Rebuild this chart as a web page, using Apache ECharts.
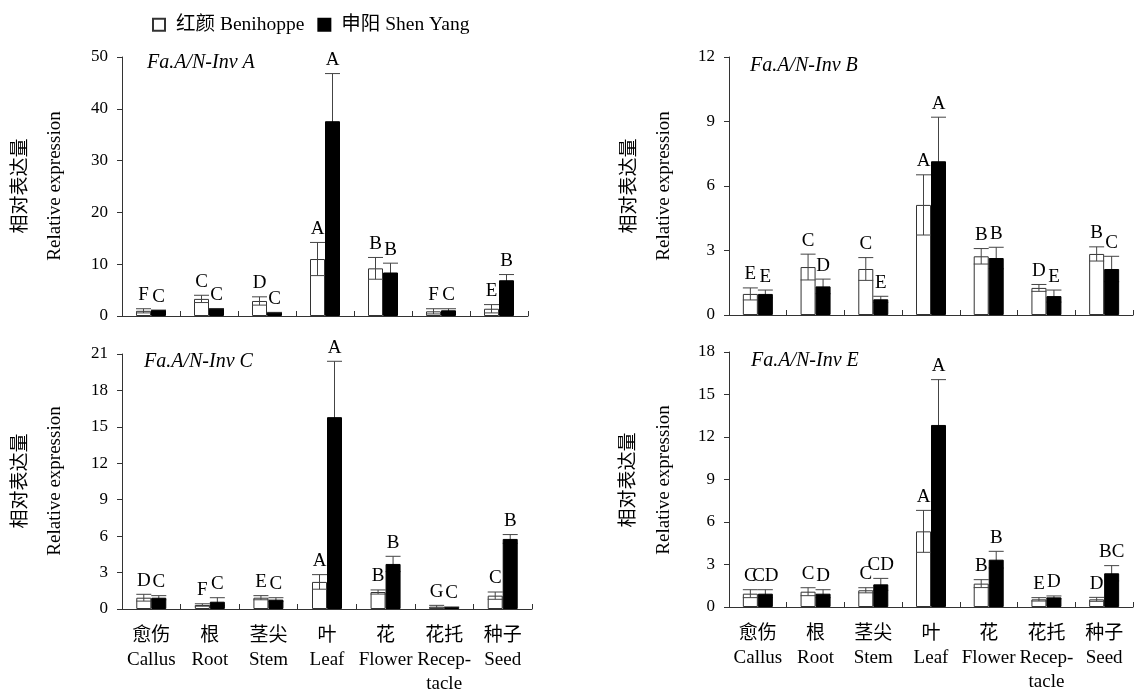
<!DOCTYPE html>
<html>
<head>
<meta charset="utf-8">
<script src="https://cdn.jsdelivr.net/npm/echarts@6/dist/echarts.min.js"></script>
<style>
html,body{margin:0;padding:0;background:#fff;}
#c{width:1137px;height:690px;}
</style>
</head>
<body>
<div id="c"></div>
<script>
// ---------- data ----------
var categoriesZh = ['愈伤', '根', '茎尖', '叶', '花', '花托', '种子'];
var categoriesEn = ['Callus', 'Root', 'Stem', 'Leaf', 'Flower', 'Recep-\ntacle', 'Seed'];
var seriesNames = ['红颜 Benihoppe', '申阳 Shen Yang'];
var panelTitles = ['Fa.A/N-Inv A', 'Fa.A/N-Inv B', 'Fa.A/N-Inv C', 'Fa.A/N-Inv E'];

// Fa.A/N-Inv A
var aWhite = [1.0, 3.3, 2.9, 11.0, 9.2, 0.9, 1.4];
var aWhiteErr = [0.4, 0.7, 0.8, 3.2, 2.1, 0.5, 0.8];
var aBlack = [1.1, 1.4, 0.65, 37.6, 8.4, 1.1, 6.9];
var aBlackErr = [0.05, 0.05, 0.05, 9.2, 1.8, 0.3, 1.1];
var aWhiteLetters = ['F', 'C', 'D', 'A', 'B', 'F', 'E'];
var aBlackLetters = ['C', 'C', 'C', 'A', 'B', 'C', 'B'];

// Fa.A/N-Inv B
var bWhite = [0.98, 2.23, 2.14, 5.12, 2.73, 1.26, 2.84];
var bWhiteErr = [0.28, 0.6, 0.53, 1.4, 0.36, 0.16, 0.33];
var bBlack = [0.98, 1.33, 0.73, 7.15, 2.65, 0.88, 2.14];
var bBlackErr = [0.18, 0.34, 0.14, 2.05, 0.5, 0.28, 0.59];
var bWhiteLetters = ['E', 'C', 'C', 'A', 'B', 'D', 'B'];
var bBlackLetters = ['E', 'D', 'E', 'A', 'B', 'E', 'C'];

// Fa.A/N-Inv C
var cWhite = [0.93, 0.33, 0.93, 2.23, 1.4, 0.19, 1.1];
var cWhiteErr = [0.28, 0.1, 0.17, 0.6, 0.17, 0.11, 0.3];
var cBlack = [0.93, 0.6, 0.77, 15.8, 3.71, 0.14, 5.77];
var cBlackErr = [0.17, 0.33, 0.16, 4.6, 0.63, 0.03, 0.36];
var cWhiteLetters = ['D', 'F', 'E', 'A', 'B', 'G', 'C'];
var cBlackLetters = ['C', 'C', 'C', 'A', 'B', 'C', 'B'];

// Fa.A/N-Inv E
var eWhite = [0.94, 1.08, 1.18, 5.34, 1.65, 0.54, 0.54];
var eWhiteErr = [0.28, 0.28, 0.18, 1.48, 0.28, 0.12, 0.14];
var eBlack = [0.94, 0.94, 1.6, 12.85, 3.34, 0.68, 2.38];
var eBlackErr = [0.28, 0.28, 0.42, 3.2, 0.59, 0.1, 0.54];
var eWhiteLetters = ['C', 'C', 'C', 'A', 'B', 'E', 'D'];
var eBlackLetters = ['CD', 'D', 'CD', 'A', 'B', 'D', 'BC'];

// y-axis scales
var yMax = [50, 12, 21, 18];
var yStep = [10, 3, 3, 3];

// ---------- chart ----------
var FONT = "'Liberation Serif', 'Noto Sans CJK SC', serif";
var BAR_W = 15;
var panels = [
  {w: aWhite, we: aWhiteErr, b: aBlack, be: aBlackErr, wl: aWhiteLetters, bl: aBlackLetters},
  {w: bWhite, we: bWhiteErr, b: bBlack, be: bBlackErr, wl: bWhiteLetters, bl: bBlackLetters},
  {w: cWhite, we: cWhiteErr, b: cBlack, be: cBlackErr, wl: cWhiteLetters, bl: cBlackLetters},
  {w: eWhite, we: eWhiteErr, b: eBlack, be: eBlackErr, wl: eWhiteLetters, bl: eBlackLetters}
];
var grids = [
  {left: 122, top: 57, width: 406, height: 259, containLabel: false, outerBoundsMode: 'none'},
  {left: 729, top: 57, width: 404, height: 258, containLabel: false, outerBoundsMode: 'none'},
  {left: 122, top: 354, width: 410, height: 255, containLabel: false, outerBoundsMode: 'none'},
  {left: 729, top: 352, width: 404, height: 255, containLabel: false, outerBoundsMode: 'none'}
];

function errRender(letters, offset) {
  return function (params, api) {
    var i = api.value(0), m = api.value(1), e = api.value(2);
    var c = api.coord([i, m]);
    var t = api.coord([i, m + e]);
    var b = api.coord([i, Math.max(0, m - e)]);
    var x = c[0] + offset;
    var hw = BAR_W / 2;
    var st = {stroke: '#444', lineWidth: 1};
    return {
      type: 'group',
      children: [
        {type: 'line', shape: {x1: x, y1: t[1], x2: x, y2: b[1]}, style: st},
        {type: 'line', shape: {x1: x - hw, y1: t[1], x2: x + hw, y2: t[1]}, style: st},
        {type: 'line', shape: {x1: x - hw, y1: b[1], x2: x + hw, y2: b[1]}, style: st},
        {type: 'text', x: x, y: t[1] - 4,
          style: {text: letters[params.dataIndex], fill: '#000', font: '19px ' + FONT,
            align: 'center', verticalAlign: 'bottom'}}
      ]
    };
  };
}

var xAxes = [], yAxes = [], series = [], graphics = [];
panels.forEach(function (p, k) {
  var bottom = k >= 2;
  xAxes.push({
    type: 'category', gridIndex: k, data: categoriesZh,
    axisLine: {lineStyle: {color: '#333', width: 1}},
    axisTick: {show: true, inside: true, length: 5, lineStyle: {color: '#333'}},
    axisLabel: {
      show: bottom, interval: 0, margin: 15, color: '#000',
      fontFamily: FONT, fontSize: 19, lineHeight: 24,
      formatter: function (v, i) { return categoriesZh[i] + '\n' + categoriesEn[i]; }
    }
  });
  yAxes.push({
    type: 'value', gridIndex: k, min: 0, max: yMax[k], interval: yStep[k],
    splitLine: {show: false},
    axisLine: {show: true, lineStyle: {color: '#333', width: 1}},
    axisTick: {show: true, length: 5, lineStyle: {color: '#333'}},
    axisLabel: {color: '#000', fontFamily: FONT, fontSize: 17, margin: 14}
  });
  var wData = p.w.map(function (v, i) { return [i, v, p.we[i]]; });
  var bData = p.b.map(function (v, i) { return [i, v, p.be[i]]; });
  series.push({
    name: seriesNames[0], type: 'bar', xAxisIndex: k, yAxisIndex: k, data: p.w,
    barWidth: BAR_W, barGap: '0%', z: 2,
    itemStyle: {color: '#fff', borderColor: '#333', borderWidth: 1}
  });
  series.push({
    name: seriesNames[1], type: 'bar', xAxisIndex: k, yAxisIndex: k, data: p.b,
    barWidth: BAR_W, barGap: '0%', z: 4,
    itemStyle: {color: '#000', borderColor: '#000', borderWidth: 1}
  });
  series.push({
    type: 'custom', xAxisIndex: k, yAxisIndex: k, data: wData, z: 3,
    renderItem: errRender(p.wl, -BAR_W / 2), silent: true
  });
  series.push({
    type: 'custom', xAxisIndex: k, yAxisIndex: k, data: bData, z: 1,
    renderItem: errRender(p.bl, BAR_W / 2), silent: true
  });
});

var titlePos = [[147, 63], [750, 66], [144, 362], [751, 361]];
titlePos.forEach(function (pos, k) {
  graphics.push({
    type: 'text', x: pos[0], y: pos[1],
    style: {text: panelTitles[k], font: 'italic 20px ' + FONT, fill: '#000',
      align: 'left', verticalAlign: 'middle'}
  });
});
var namePos = [[21, 55, 186], [630, 664, 186], [21, 55, 481], [629, 664, 480]];
namePos.forEach(function (pos) {
  graphics.push({
    type: 'text', x: pos[0], y: pos[2], rotation: Math.PI / 2,
    style: {text: '相对表达量', font: '19px ' + FONT, fill: '#000', align: 'center', verticalAlign: 'middle'}
  });
  graphics.push({
    type: 'text', x: pos[1], y: pos[2], rotation: Math.PI / 2,
    style: {text: 'Relative expression', font: '19px ' + FONT, fill: '#000', align: 'center', verticalAlign: 'middle'}
  });
});

var chart = echarts.init(document.getElementById('c'), null, {renderer: 'canvas'});
chart.setOption({
  animation: false,
  backgroundColor: '#fff',
  legend: {
    left: 147, top: 10, itemWidth: 12, itemHeight: 12, itemGap: 13,
    icon: 'rect',
    data: seriesNames,
    textStyle: {fontFamily: FONT, fontSize: 19.5, color: '#000', padding: [0, 0, 0, 6]}
  },
  grid: grids,
  xAxis: xAxes,
  yAxis: yAxes,
  series: series,
  graphic: graphics
});
</script>
</body>
</html>
